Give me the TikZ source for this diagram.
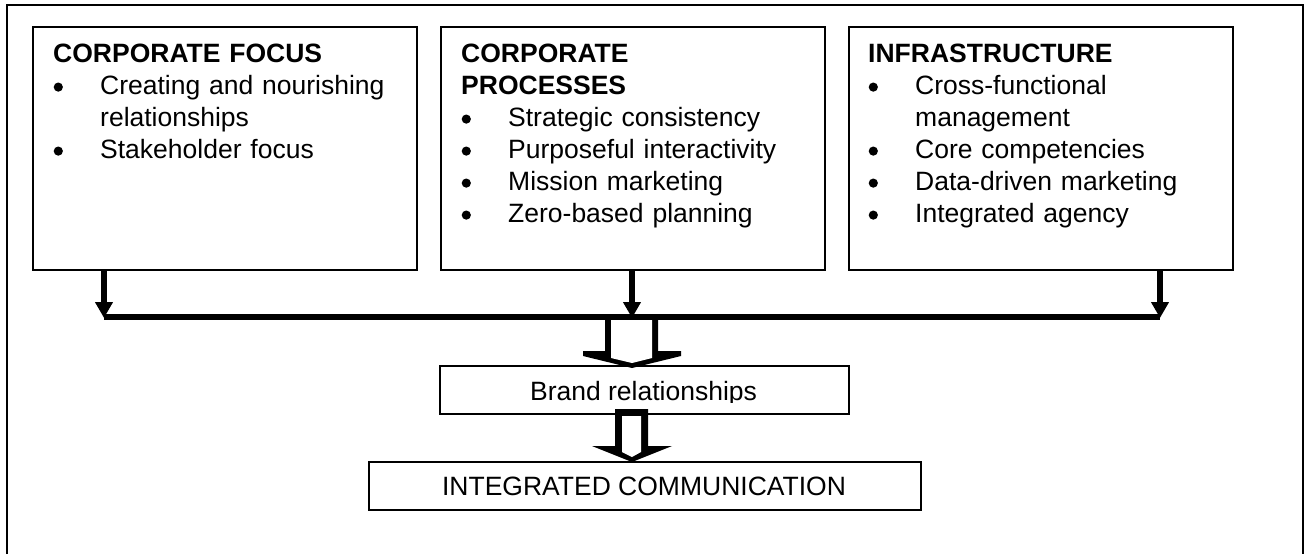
\documentclass[tikz,border=0pt]{standalone}
\usepackage{fontspec}
\setmainfont{Liberation Sans}
\usetikzlibrary{arrows.meta}
\newcommand\bulmark{\raisebox{2.5pt}{\tikz\fill[black] (0,0) circle[radius=4.6pt];}}
\newcommand\bul[1]{\hangindent=47pt\hangafter=1\noindent\makebox[47pt][l]{\hspace{0.5pt}\bulmark}#1\par}
\newcommand\brk{\hfil\break}
\begin{document}
\begin{tikzpicture}[x=1pt,y=-1pt,
  box/.style={draw, line width=1.8pt, minimum width=384pt, minimum height=243pt, anchor=north west, inner sep=0pt},
  smallbox/.style={draw, line width=1.8pt, minimum height=48pt, anchor=north west, inner sep=0pt},
  txt/.style={anchor=north west, inner sep=0pt, text width=360pt, align=left, font=\fontsize{26.5}{32}\selectfont},
  lbl/.style={inner sep=0pt, font=\fontsize{26.5}{32}\selectfont},
  thinarr/.style={line width=6pt, -{Triangle[width=17pt,length=16pt]}},
  bus/.style={line width=6pt},
  frame/.style={line width=2pt}]
\useasboundingbox (0,0) rectangle (1308,554);
\fill[white] (0,0) rectangle (1308,554);
% outer frame (open at the bottom)
\draw[frame] (7,554) -- (7,5) -- (1303,5) -- (1303,554);

% top boxes
\node[box] (box1) at (32,26) {};
\node[box] (box2) at (440,26) {};
\node[box] (box3) at (848,26) {};

\node[txt] (t1) at ([shift={(21,13.6)}]box1.north west)
  {\strut\textbf{CORPORATE FOCUS}\par
   \bul{Creating and nourishing\brk relationships}
   \bul{Stakeholder focus}};
\node[txt] (t2) at ([shift={(21,13.6)}]box2.north west)
  {\strut\textbf{CORPORATE}\brk\textbf{PROCESSES}\par
   \bul{Strategic consistency}
   \bul{Purposeful interactivity}
   \bul{Mission marketing}
   \bul{Zero-based planning}};
\node[txt] (t3) at ([shift={(20,13.6)}]box3.north west)
  {\strut\textbf{INFRASTRUCTURE}\par
   \bul{Cross-functional\brk management}
   \bul{Core competencies}
   \bul{Data-driven marketing}
   \bul{Integrated agency}};

% lower boxes
\node[smallbox, minimum width=409pt] (brand) at (439,365) {};
\node[smallbox, minimum width=552pt] (integ) at (368,461) {};
\begin{scope}
  \clip (439,365) rectangle (848,402);
  \node[lbl, anchor=base] (brandtxt) at (643.5,400) {Brand relationships};
\end{scope}
\node[lbl, anchor=base] (integtxt) at (644,495) {INTEGRATED COMMUNICATION};

% block arrow 1 (bus -> brand)
\fill[black] (605,315) -- (605,351) -- (583,351) -- (583,356) -- (632,368) -- (681,356) -- (681,351) -- (658,351) -- (658,315) -- cycle;
\fill[white] (611,315) -- (611,358) -- (632,363) -- (652,358) -- (652,315) -- cycle;
% block arrow 2 (brand -> integrated)
\fill[black] (615,409) -- (615,446) -- (592,446) -- (632,462) -- (672,446) -- (648,446) -- (648,409) -- cycle;
\fill[white] (622,416) -- (622,452) -- (632,457) -- (641,452) -- (641,416) -- cycle;

% bus and thin arrows
\coordinate (busL) at (104,317);
\coordinate (busM) at (632,317);
\coordinate (busR) at (1160,317);
\draw[bus] (busL) -- (busR);
\draw[thinarr] (box1.south -| busL) -- ([yshift=-1pt]busL);
\draw[thinarr] (box2.south -| busM) -- ([yshift=-1pt]busM);
\draw[thinarr] (box3.south -| busR) -- ([yshift=-1pt]busR);
\end{tikzpicture}
\end{document}
